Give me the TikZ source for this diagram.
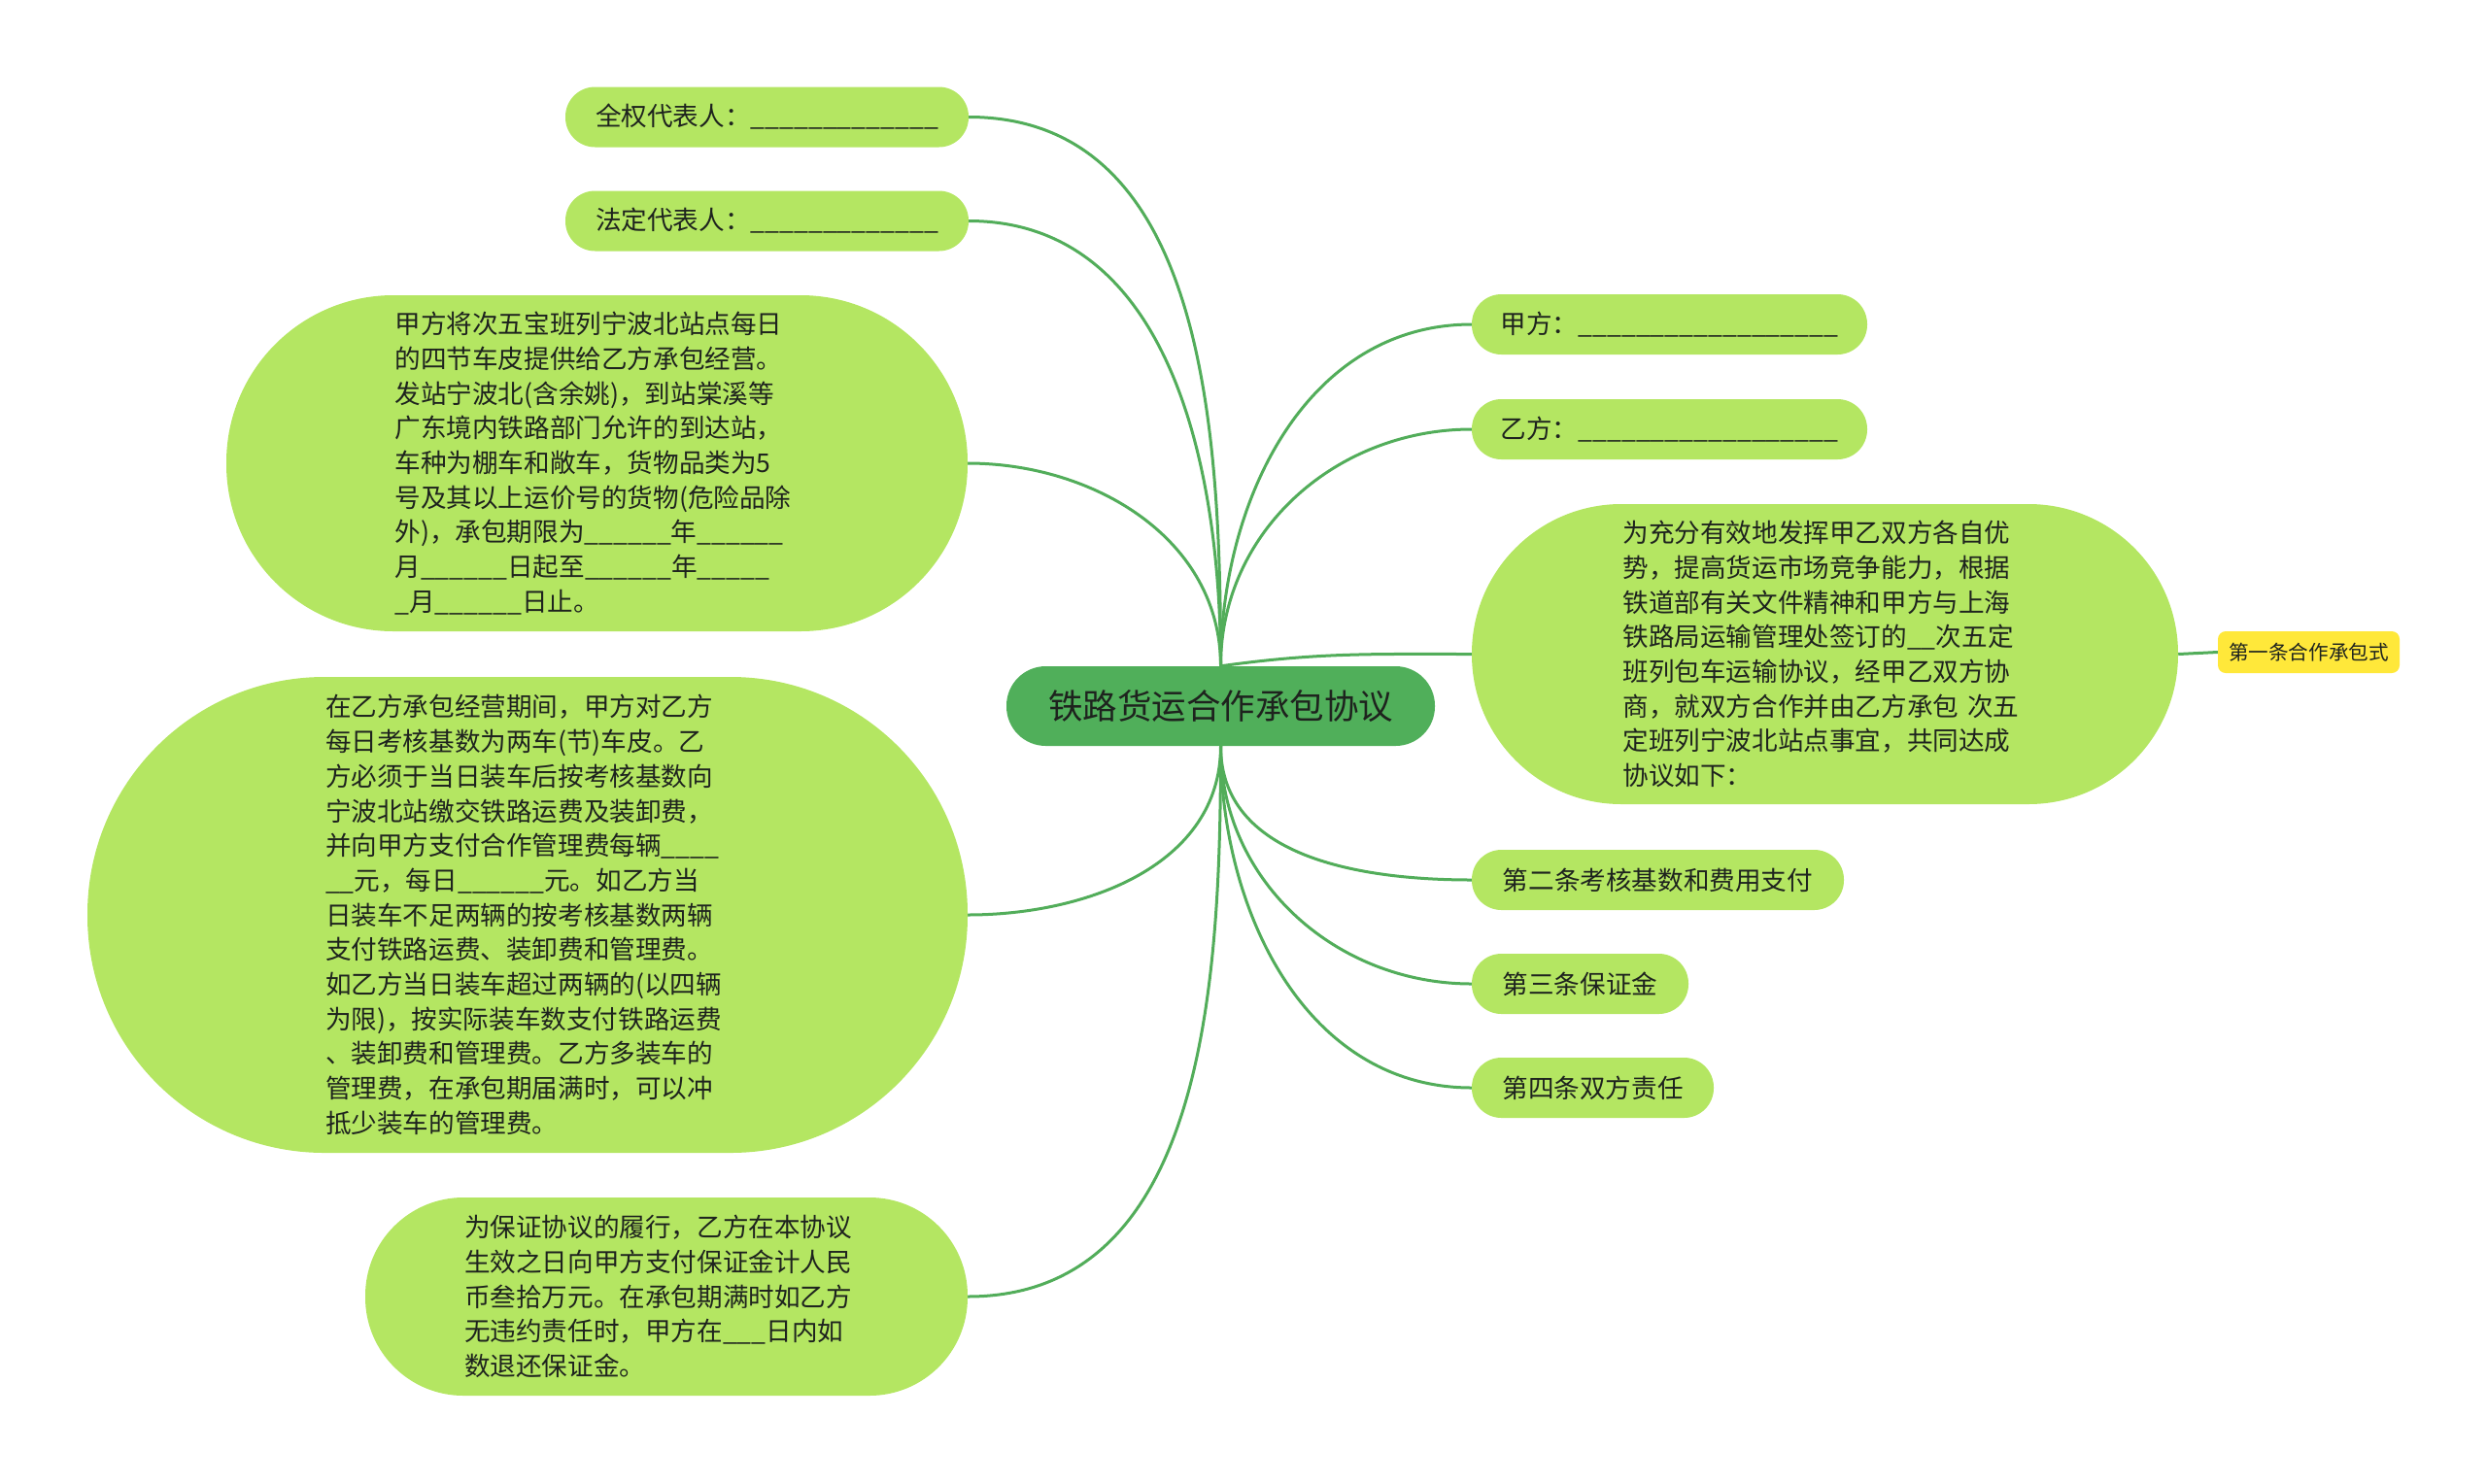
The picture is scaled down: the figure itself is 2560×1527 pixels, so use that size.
\documentclass[tikz,border=0pt]{standalone}
\usepackage{fontspec}
\setmainfont{Noto Sans CJK SC}
\usetikzlibrary{backgrounds}
\definecolor{leaf}{RGB}{180,230,98}
\definecolor{rootc}{RGB}{80,175,90}
\definecolor{linec}{RGB}{82,173,90}
\definecolor{tagc}{RGB}{255,232,58}
\definecolor{txt}{RGB}{30,35,30}
\begin{document}
\begin{tikzpicture}[x=1pt,y=1pt,
  pill/.style={fill=leaf, text=txt, inner sep=0pt, minimum height=62pt, rounded corners=30.5pt, font=\fontsize{26.6}{35.7}\selectfont},
  blob/.style={fill=leaf, text=txt, inner sep=0pt, align=left, text width=416pt, font=\fontsize{26.6}{35.7}\selectfont},
  link/.style={draw=linec, line width=3pt},
]
\useasboundingbox (0,0) rectangle (2560,-1527);

% root
\node[fill=rootc, text=txt, inner sep=0pt, rounded corners=40.5pt, minimum width=441pt, minimum height=82pt, font=\fontsize{35.5}{40}\selectfont] (root) at (1256.5,-727) {铁路货运合作承包协议};

% left side
\node[pill, minimum width=415pt] (qq) at (789.5,-120.5) {全权代表人：\_\_\_\_\_\_\_\_\_\_\_\_\_};
\node[pill, minimum width=415pt] (fd) at (789.5,-227.5) {法定代表人：\_\_\_\_\_\_\_\_\_\_\_\_\_};

\node[blob, minimum width=763pt, minimum height=346pt, rounded corners=172pt] (b1) at (614.5,-477) {甲方将次五宝班列宁波北站点每日\\
的四节车皮提供给乙方承包经营。\\
发站宁波北(含余姚)，到站棠溪等\\
广东境内铁路部门允许的到达站，\\
车种为棚车和敞车，货物品类为5\\
号及其以上运价号的货物(危险品除\\
外)，承包期限为\_\_\_\_\_\_年\_\_\_\_\_\_\\
月\_\_\_\_\_\_日起至\_\_\_\_\_\_年\_\_\_\_\_\\
\_月\_\_\_\_\_\_日止。};

\node[blob, minimum width=906pt, minimum height=490pt, rounded corners=244pt] (b2) at (543,-942) {在乙方承包经营期间，甲方对乙方\\
每日考核基数为两车(节)车皮。乙\\
方必须于当日装车后按考核基数向\\
宁波北站缴交铁路运费及装卸费，\\
并向甲方支付合作管理费每辆\_\_\_\_\\
\_\_元，每日\_\_\_\_\_\_元。如乙方当\\
日装车不足两辆的按考核基数两辆\\
支付铁路运费、装卸费和管理费。\\
如乙方当日装车超过两辆的(以四辆\\
为限)，按实际装车数支付铁路运费\\
、装卸费和管理费。乙方多装车的\\
管理费，在承包期届满时，可以冲\\
抵少装车的管理费。};

\node[blob, minimum width=620pt, minimum height=204pt, rounded corners=101pt] (b3) at (686,-1335) {为保证协议的履行，乙方在本协议\\
生效之日向甲方支付保证金计人民\\
币叁拾万元。在承包期满时如乙方\\
无违约责任时，甲方在\_\_\_日内如\\
数退还保证金。};

% right side
\node[pill, minimum width=407pt] (jf) at (1718.5,-334) {甲方：\_\_\_\_\_\_\_\_\_\_\_\_\_\_\_\_\_\_};
\node[pill, minimum width=407pt] (yf) at (1718.5,-442) {乙方：\_\_\_\_\_\_\_\_\_\_\_\_\_\_\_\_\_\_};

\node[blob, minimum width=727pt, minimum height=309pt, rounded corners=154pt] (br) at (1878.5,-673.5) {为充分有效地发挥甲乙双方各自优\\
势，提高货运市场竞争能力，根据\\
铁道部有关文件精神和甲方与上海\\
铁路局运输管理处签订的\_\_次五定\\
班列包车运输协议，经甲乙双方协\\
商，就双方合作并由乙方承包~次五\\
定班列宁波北站点事宜，共同达成\\
协议如下：};

\node[fill=tagc, text=txt, inner sep=0pt, rounded corners=8pt, minimum width=187pt, minimum height=43pt, font=\fontsize{20.6}{24}\selectfont] (tag) at (2376.5,-671.5) {第一条合作承包式};

\node[pill, minimum width=383pt] (d2) at (1706.5,-906) {第二条考核基数和费用支付};
\node[pill, minimum width=223pt] (d3) at (1626.5,-1013) {第三条保证金};
\node[pill, minimum width=249pt] (d4) at (1639.5,-1120) {第四条双方责任};

\begin{pgfonlayer}{background}
\draw[link] (root.north) to[out=90,in=0] (qq.east);
\draw[link] (root.north) to[out=90,in=0] (fd.east);
\draw[link] (root.north) to[out=90,in=0] (b1.east);
\draw[link] (root.north) to[out=90,in=180] (jf.west);
\draw[link] (root.north) to[out=90,in=180] (yf.west);
\draw[link] (root.north) to[out=8,in=180] (br.west);
\draw[link] (root.south) to[out=-90,in=0] (b2.east);
\draw[link] (root.south) to[out=-90,in=0] (b3.east);
\draw[link] (root.south) to[out=-90,in=180] (d2.west);
\draw[link] (root.south) to[out=-90,in=180] (d3.west);
\draw[link] (root.south) to[out=-90,in=180] (d4.west);
\draw[link] (br.east) -- (tag.west);
\end{pgfonlayer}
\end{tikzpicture}
\end{document}
